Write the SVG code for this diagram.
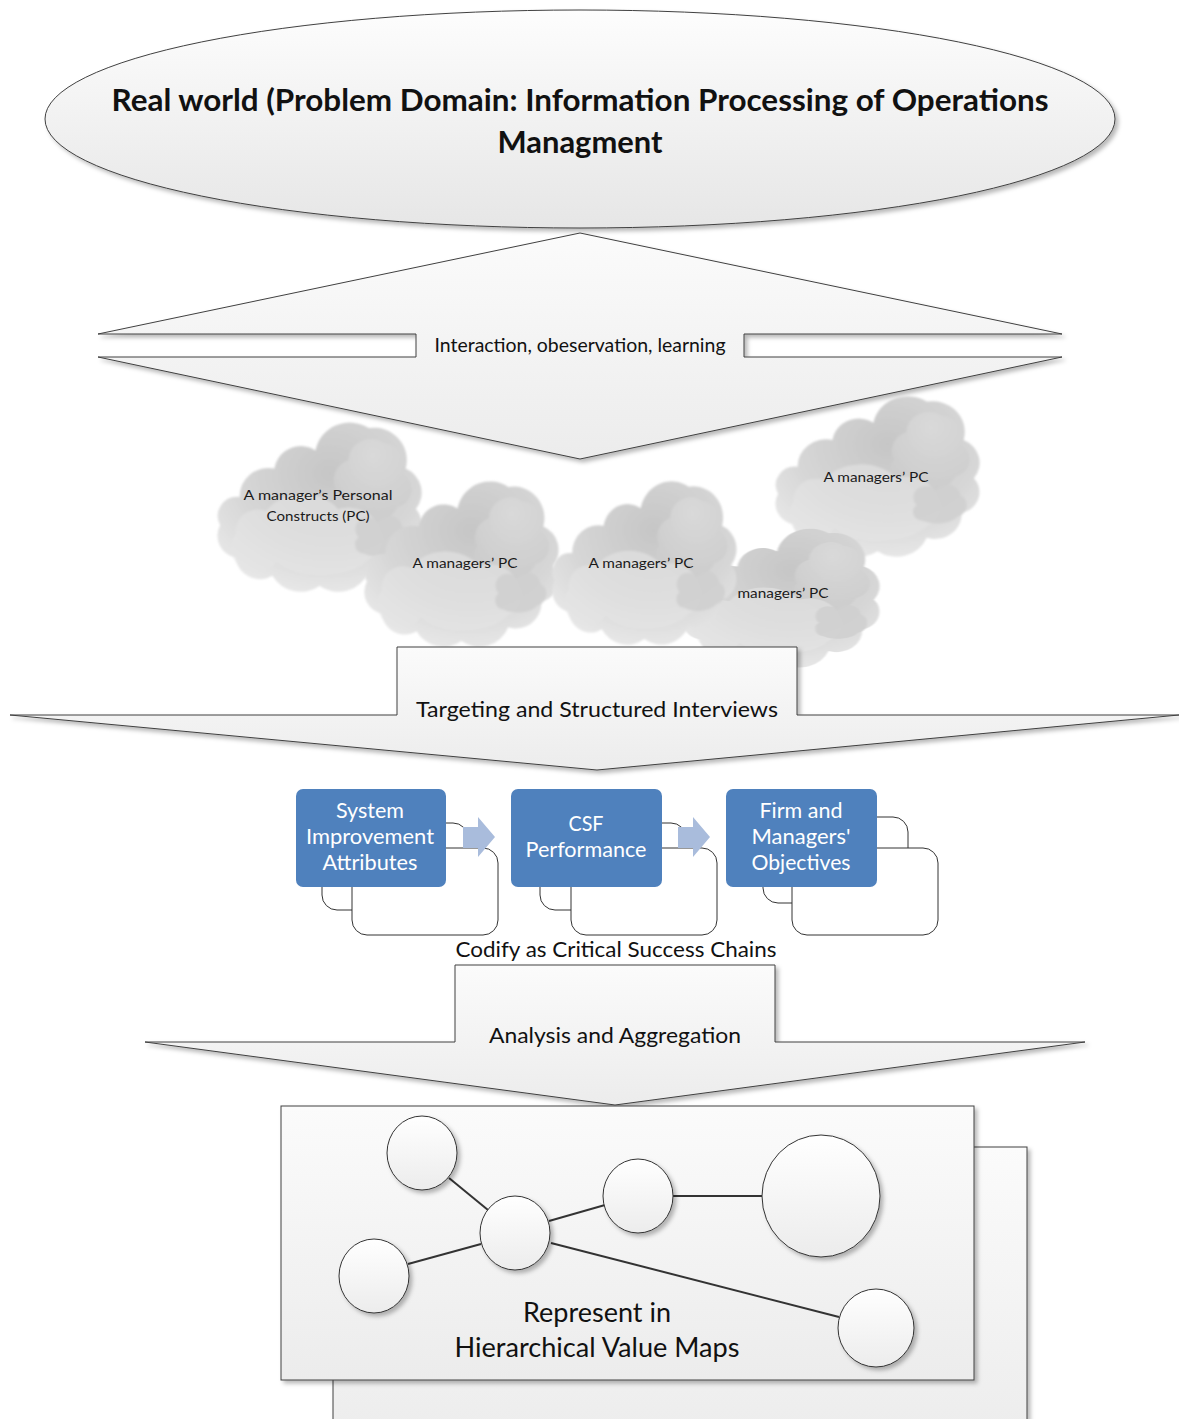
<svg xmlns="http://www.w3.org/2000/svg" xmlns:xlink="http://www.w3.org/1999/xlink" width="1179" height="1419" viewBox="0 0 1179 1419">
  <style>
    text { font-family: Lato, "Liberation Sans", "DejaVu Sans", sans-serif; fill: #111; }
    .outline { stroke: #404040; stroke-width: 1; }
    .panel { fill: url(#paleFill); stroke: #404040; stroke-width: 1; }
    .title { font-size: 30px; font-weight: bold; text-anchor: middle; }
    .flow { font-size: 22px; text-anchor: middle; }
    .cloudtxt { font-size: 14px; text-anchor: middle; fill: #1a1a1a; }
    .step { fill: #4f81bd; }
    .steptxt { font-size: 21px; text-anchor: middle; fill: #ffffff; }
    .card { fill: #ffffff; stroke: #333; stroke-width: 1; }
    .chev { fill: #a9bcdc; }
    .bubble { fill: url(#bubbleFill); stroke: #333; stroke-width: 1; }
    .link { stroke: #333; stroke-width: 2; fill: none; }
  </style>
  <defs>
    <linearGradient id="paleFill" x1="0" y1="0" x2="0" y2="1">
      <stop offset="0" stop-color="#fbfbfb"/>
      <stop offset="1" stop-color="#ececec"/>
    </linearGradient>
    <linearGradient id="ovalFill" x1="0" y1="0" x2="0" y2="1">
      <stop offset="0" stop-color="#fdfdfd"/>
      <stop offset="1" stop-color="#e6e6e6"/>
    </linearGradient>
    <linearGradient id="bubbleFill" x1="0" y1="0" x2="0" y2="1">
      <stop offset="0" stop-color="#ffffff"/>
      <stop offset="1" stop-color="#ececec"/>
    </linearGradient>
    <radialGradient id="cloudFill" cx="0.55" cy="0.3" r="0.8">
      <stop offset="0" stop-color="#c6c6c6"/>
      <stop offset="0.55" stop-color="#d6d6d6"/>
      <stop offset="1" stop-color="#ececec"/>
    </radialGradient>
    <radialGradient id="puffFill" cx="0.5" cy="0.2" r="0.8">
      <stop offset="0" stop-color="#dcdcdc"/>
      <stop offset="1" stop-color="#cbcbcb"/>
    </radialGradient>
    <filter id="shadow" x="-5%" y="-5%" width="115%" height="120%">
      <feDropShadow dx="3" dy="3" stdDeviation="2" flood-color="#000" flood-opacity="0.28"/>
    </filter>
    <filter id="soft" x="-10%" y="-10%" width="120%" height="120%">
      <feGaussianBlur stdDeviation="0.9"/>
    </filter>
    <!-- generic cumulus shape, stretched per placement -->
    <symbol id="cloud" viewBox="0 0 200 170" preserveAspectRatio="none" style="overflow:visible">
      <g filter="url(#soft)">
        <path fill="url(#cloudFill)" d="M24,78 A28,28 0 0 1 58,50 A26,26 0 0 1 98,32 A34,34 0 0 1 150,10 A32,32 0 0 1 186,50 A26,26 0 0 1 196,90 A22,22 0 0 1 184,126 A26,26 0 0 1 150,152 A32,32 0 0 1 102,166 A32,32 0 0 1 56,156 A24,24 0 0 1 20,138 A22,22 0 0 1 5,106 A19,19 0 0 1 24,78 Z"/>
        <path fill="url(#puffFill)" opacity="0.8" d="M118,70 A20,20 0 0 1 130,42 A22,22 0 0 1 165,25 A22,22 0 0 1 183,55 A18,18 0 0 1 178,88 A30,30 0 0 1 130,95 A16,16 0 0 1 118,70 Z"/>
        <path fill="#e4e4e4" opacity="0.6" d="M20,115 A22,22 0 0 1 50,92 A40,30 0 0 1 120,90 A30,25 0 0 1 160,110 A20,20 0 0 1 150,140 A50,25 0 0 1 60,142 A20,20 0 0 1 20,115 Z"/>
        <path fill="#cfcfcf" opacity="0.85" d="M140,118 A12,12 0 0 1 158,102 A14,14 0 0 1 183,108 A12,12 0 0 1 180,130 A22,12 0 0 1 145,134 A9,9 0 0 1 140,118 Z"/>
      </g>
    </symbol>
  </defs>

  <!-- problem domain oval -->
  <g id="real-world">
    <ellipse cx="580" cy="119" rx="535" ry="109" fill="url(#ovalFill)" class="outline" filter="url(#shadow)"/>
    <text class="title" x="580" y="111" textLength="937" lengthAdjust="spacingAndGlyphs">Real world (Problem Domain:  Information Processing of Operations</text>
    <text class="title" x="580" y="153" textLength="165" lengthAdjust="spacingAndGlyphs">Managment</text>
  </g>

  <g id="connectors">
    <!-- two-way exchange between the real world and the managers -->
    <g id="interaction">
      <path class="panel" filter="url(#shadow)" d="M580,233 L1062,334 L744,334 L744,357 L1062,357 L580,459 L98,357 L416,357 L416,334 L98,334 Z"/>
      <text x="580" y="352" style="font-size:19px;text-anchor:middle" textLength="291" lengthAdjust="spacingAndGlyphs">Interaction, obeservation, learning</text>
    </g>
  </g>

  <!-- personal construct clouds -->
  <g id="cloud-pc-1">
    <use xlink:href="#cloud" href="#cloud" x="215" y="418" width="205" height="172"/>
    <text class="cloudtxt" x="318" y="500" textLength="149" lengthAdjust="spacingAndGlyphs">A manager’s  Personal</text>
    <text class="cloudtxt" x="318" y="521" textLength="103" lengthAdjust="spacingAndGlyphs">Constructs (PC)</text>
  </g>
  <g id="cloud-pc-5">
    <use xlink:href="#cloud" href="#cloud" x="773" y="392" width="205" height="163"/>
    <text class="cloudtxt" x="876" y="482" textLength="105" lengthAdjust="spacingAndGlyphs">A managers’ PC</text>
  </g>
  <g id="cloud-pc-4">
    <use xlink:href="#cloud" href="#cloud" x="680" y="525" width="198" height="141"/>
    <text class="cloudtxt" x="783" y="598" textLength="91" lengthAdjust="spacingAndGlyphs">managers’ PC</text>
  </g>
  <g id="cloud-pc-2">
    <use xlink:href="#cloud" href="#cloud" x="362" y="477" width="195" height="168"/>
    <text class="cloudtxt" x="465" y="568" textLength="105" lengthAdjust="spacingAndGlyphs">A managers’ PC</text>
  </g>
  <g id="cloud-pc-3">
    <use xlink:href="#cloud" href="#cloud" x="550" y="477" width="185" height="166"/>
    <text class="cloudtxt" x="641" y="568" textLength="105" lengthAdjust="spacingAndGlyphs">A managers’ PC</text>
  </g>

  <g id="connectors-lower">
    <g id="targeting">
      <path class="panel" filter="url(#shadow)" d="M397,647 L797,647 L797,715 L1179,715 L597,770 L10,715 L397,715 Z"/>
      <text class="flow" x="597" y="717" textLength="362" lengthAdjust="spacingAndGlyphs">Targeting and Structured Interviews</text>
    </g>
  </g>

  <!-- critical success chain -->
  <g id="step-attributes">
    <rect class="card" x="322" y="823" width="146" height="87" rx="15"/>
    <rect class="card" x="352" y="848" width="146" height="87" rx="15"/>
    <rect class="step" x="296" y="789" width="150" height="98" rx="7"/>
    <text class="steptxt" x="370" y="818" textLength="68" lengthAdjust="spacingAndGlyphs">System</text>
    <text class="steptxt" x="370" y="844" textLength="128" lengthAdjust="spacingAndGlyphs">Improvement</text>
    <text class="steptxt" x="370" y="870" textLength="95" lengthAdjust="spacingAndGlyphs">Attributes</text>
  </g>
  <g id="step-csf">
    <rect class="card" x="540" y="823" width="146" height="87" rx="15"/>
    <rect class="card" x="571" y="848" width="146" height="87" rx="15"/>
    <rect class="step" x="511" y="789" width="151" height="98" rx="7"/>
    <text class="steptxt" x="586" y="831" textLength="35" lengthAdjust="spacingAndGlyphs">CSF</text>
    <text class="steptxt" x="586" y="857" textLength="121" lengthAdjust="spacingAndGlyphs">Performance</text>
  </g>
  <g id="step-objectives">
    <rect class="card" x="763" y="817" width="145" height="86" rx="15"/>
    <rect class="card" x="792" y="848" width="146" height="87" rx="15"/>
    <rect class="step" x="726" y="789" width="151" height="98" rx="7"/>
    <text class="steptxt" x="801" y="818" textLength="83" lengthAdjust="spacingAndGlyphs">Firm and</text>
    <text class="steptxt" x="801" y="844" textLength="99" lengthAdjust="spacingAndGlyphs">Managers'</text>
    <text class="steptxt" x="801" y="870" textLength="99" lengthAdjust="spacingAndGlyphs">Objectives</text>
  </g>

  <g id="chain-arrows">
    <path class="chev" d="M463,827 L478,827 L478,817 L495,837 L478,857 L478,848 L463,848 Z"/>
    <path class="chev" d="M678,827 L693,827 L693,817 L710,837 L693,857 L693,848 L678,848 Z"/>
  </g>

  <text id="codify" class="flow" x="616" y="957" textLength="321" lengthAdjust="spacingAndGlyphs">Codify as Critical Success Chains</text>

  <g id="connectors-analysis">
    <g id="analysis">
      <path class="panel" filter="url(#shadow)" d="M455,965 L775,965 L775,1042 L1085,1042 L615,1105 L145,1042 L455,1042 Z"/>
      <text class="flow" x="615" y="1043" textLength="252" lengthAdjust="spacingAndGlyphs">Analysis and Aggregation</text>
    </g>
  </g>

  <!-- hierarchical value map sheets -->
  <g id="value-map">
    <rect class="panel" x="333" y="1147" width="694" height="300" filter="url(#shadow)"/>
    <rect class="panel" x="281" y="1106" width="693" height="274" filter="url(#shadow)"/>
    <g id="map-links">
      <line class="link" x1="449" y1="1178" x2="488" y2="1210"/>
      <line class="link" x1="549" y1="1221" x2="605" y2="1205"/>
      <line class="link" x1="408" y1="1264" x2="481" y2="1244"/>
      <line class="link" x1="673" y1="1196" x2="762" y2="1196"/>
      <line class="link" x1="551" y1="1243" x2="839" y2="1317"/>
    </g>
    <g id="map-nodes" filter="url(#shadow)">
      <ellipse class="bubble" cx="422" cy="1153" rx="35" ry="37"/>
      <ellipse class="bubble" cx="515" cy="1233" rx="35" ry="37"/>
      <ellipse class="bubble" cx="374" cy="1276" rx="35" ry="37"/>
      <ellipse class="bubble" cx="638" cy="1196" rx="35" ry="37"/>
      <ellipse class="bubble" cx="821" cy="1196" rx="59" ry="61"/>
      <ellipse class="bubble" cx="876" cy="1328" rx="38" ry="39"/>
    </g>
    <text x="597" y="1322" style="font-size:26px;text-anchor:middle" textLength="148" lengthAdjust="spacingAndGlyphs">Represent in</text>
    <text x="597" y="1357" style="font-size:26px;text-anchor:middle" textLength="285" lengthAdjust="spacingAndGlyphs">Hierarchical Value Maps</text>
  </g>
</svg>
